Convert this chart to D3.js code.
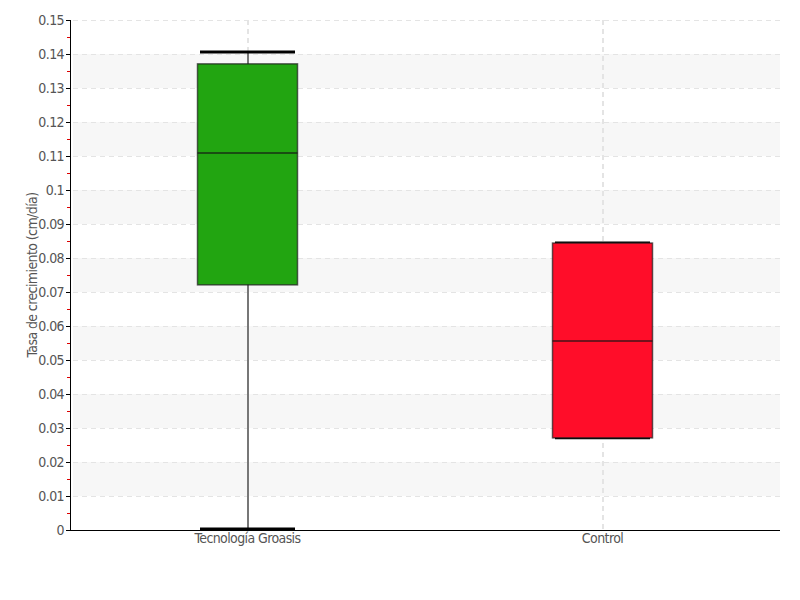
<!DOCTYPE html>
<html>
<head>
<meta charset="utf-8">
<script src="https://cdn.jsdelivr.net/npm/d3@7.9.0/dist/d3.min.js"></script>
<style>
  body { margin: 0; background: #fff; }
  text { font-family: "DejaVu Sans Condensed", "DejaVu Sans", sans-serif; font-stretch: condensed; fill: #555; letter-spacing: -0.6px; }
</style>
</head>
<body>
<svg id="chart" width="800" height="600"></svg>
<script>
// Data
const categories = ['Tecnología Groasis', 'Control'];
const boxMin = [0.0003, 0.0271];
const boxQ1 = [0.0721, 0.0271];
const boxMedian = [0.1109, 0.0556];
const boxQ3 = [0.1371, 0.0844];
const boxMax = [0.1406, 0.0844];
const boxColors = ['#22a511', '#ff0d29'];
const yTicks = d3.range(0, 0.1501, 0.01).map(v => +v.toFixed(2));
const yLabel = 'Tasa de crecimiento (cm/día)';

const margin = { top: 20, right: 20, bottom: 70, left: 70 };
const width = 800, height = 600;

const svg = d3.select('#chart');

const x = d3.scaleBand()
  .domain(categories)
  .range([margin.left, width - margin.right]);

const y = d3.scaleLinear()
  .domain([0, 0.15])
  .range([height - margin.bottom, margin.top]);

const boxes = categories.map((c, i) => ({
  name: c,
  min: boxMin[i], q1: boxQ1[i], median: boxMedian[i], q3: boxQ3[i], max: boxMax[i],
  color: boxColors[i]
}));

// Alternating bands
svg.append('g')
  .selectAll('rect')
  .data(yTicks.filter((d, i) => i % 2 === 1 && i < yTicks.length - 1))
  .join('rect')
  .attr('x', margin.left + 3)
  .attr('width', width - margin.right - margin.left - 3)
  .attr('y', d => y(d + 0.01))
  .attr('height', d => y(d) - y(d + 0.01))
  .attr('fill', '#f7f7f7');

// Horizontal grid
svg.append('g')
  .selectAll('line')
  .data(yTicks.slice(1))
  .join('line')
  .attr('x1', margin.left + 3)
  .attr('x2', width - margin.right)
  .attr('y1', d => y(d) + 0.5)
  .attr('y2', d => y(d) + 0.5)
  .attr('stroke', '#e4e4e4')
  .attr('stroke-dasharray', '5,4');

// Vertical grid
svg.append('g')
  .selectAll('line')
  .data(categories)
  .join('line')
  .attr('x1', d => x(d) + x.bandwidth() / 2 + 0.5)
  .attr('x2', d => x(d) + x.bandwidth() / 2 + 0.5)
  .attr('y1', margin.top)
  .attr('y2', height - margin.bottom)
  .attr('stroke', '#e4e4e4')
  .attr('stroke-width', 2)
  .attr('stroke-dasharray', '5,4');

// Boxes
const boxW = 100, capW = 95;
const g = svg.append('g')
  .selectAll('g')
  .data(boxes)
  .join('g')
  .attr('transform', d => `translate(${x(d.name) + x.bandwidth() / 2},0)`);

g.append('line')
  .attr('x1', 0.5).attr('x2', 0.5)
  .attr('y1', d => y(d.min))
  .attr('y2', d => y(d.max))
  .attr('stroke', '#777')
  .attr('stroke-width', 2);

g.selectAll('.cap')
  .data(d => [d.min, d.max])
  .join('line')
  .attr('class', 'cap')
  .attr('x1', -capW / 2).attr('x2', capW / 2)
  .attr('y1', d => y(d)).attr('y2', d => y(d))
  .attr('stroke', '#000')
  .attr('stroke-width', 3);

g.append('rect')
  .attr('x', -boxW / 2)
  .attr('width', boxW)
  .attr('y', d => y(d.q3))
  .attr('height', d => y(d.q1) - y(d.q3))
  .attr('fill', d => d.color)
  .attr('stroke', 'rgba(30,30,30,0.7)')
  .attr('stroke-width', 1.5);

g.append('line')
  .attr('x1', -boxW / 2).attr('x2', boxW / 2)
  .attr('y1', d => y(d.median)).attr('y2', d => y(d.median))
  .attr('stroke', 'rgba(20,20,20,0.8)')
  .attr('stroke-width', 1.5);

// Y axis
const yAxis = svg.append('g')
  .attr('transform', `translate(${margin.left},0)`)
  .call(d3.axisLeft(y).tickValues(yTicks).tickSize(4).tickFormat(d => d3.format('')(d)));
yAxis.select('.domain').attr('stroke', '#000').attr('d', `M0.5,${margin.top}V${height - margin.bottom}`);
yAxis.selectAll('.tick line').attr('stroke', '#000');
yAxis.selectAll('.tick text')
  .attr('x', -6)
  .attr('font-family', null)
  .attr('font-size', null)
  .style('font-size', '14px')
  .attr('fill', '#555');

// Minor ticks
yAxis.append('g')
  .selectAll('line')
  .data(yTicks.slice(0, -1).map(d => d + 0.005))
  .join('line')
  .attr('x1', -3).attr('x2', 0)
  .attr('y1', d => y(d) + 0.5).attr('y2', d => y(d) + 0.5)
  .attr('stroke', '#d00');

// X axis
const xAxis = svg.append('g')
  .attr('transform', `translate(0,${height - margin.bottom})`)
  .call(d3.axisBottom(x).tickSize(0).tickPadding(3));
xAxis.attr('font-family', null).attr('font-size', null);
yAxis.attr('font-family', null).attr('font-size', null);
xAxis.select('.domain').attr('stroke', '#000').attr('d', `M${margin.left},0.5H${width - margin.right}`);
xAxis.selectAll('.tick text')
  .style('font-size', '14px')
  .attr('fill', '#555');

// Y label
svg.append('text')
  .attr('transform', `translate(37,${(margin.top + height - margin.bottom) / 2}) rotate(-90)`)
  .attr('text-anchor', 'middle')
  .style('font-size', '14px')
  .text(yLabel);
</script>
</body>
</html>
